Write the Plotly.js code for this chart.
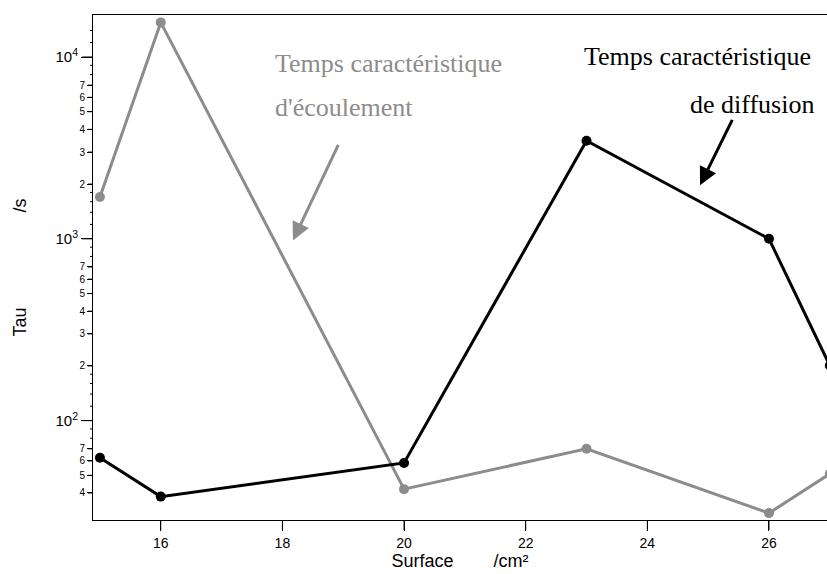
<!DOCTYPE html>
<html>
<head>
<meta charset="utf-8">
<script src="https://cdn.plot.ly/plotly-3.0.1.min.js"></script>
<style>
html, body { margin: 0; padding: 0; background: #fff; overflow: hidden; }
#chart { width: 827px; height: 574px; }
</style>
</head>
<body>
<div id="chart"></div>
<script>
// Surface (cm²)
const surface = [15, 16, 20, 23, 26, 27];
// Temps caractéristique d'écoulement (s) - gray
const tauEcoulement = [1700, 15500, 42, 70, 31, 51];
// Temps caractéristique de diffusion (s) - black
const tauDiffusion = [62.5, 38.2, 58.5, 3460, 1000, 201];

// tick values / labels
const xTickVals = [16, 18, 20, 22, 24, 26];
const decadeVals = [100, 1000, 10000];
const decadeText = ['10<sup>2</sup>', '10<sup>3</sup>', '10<sup>4</sup>'];
const smallVals = [40, 50, 60, 70, 200, 300, 400, 500, 600, 700, 2000, 3000, 4000, 5000, 6000, 7000];
const smallText = ['4', '5', '6', '7', '2', '3', '4', '5', '6', '7', '2', '3', '4', '5', '6', '7'];
const minorVals = [80, 90, 120, 140, 160, 180, 800, 900, 1200, 1400, 1600, 1800, 8000, 9000, 12000, 14000];

const gray = '#8c8c8c';
const yRange = [1.4535, 4.231];
const plotW = 734, plotH = 505;

const traces = [
  {
    x: surface, y: tauEcoulement, type: 'scatter', mode: 'lines+markers',
    line: {color: gray, width: 3}, marker: {color: gray, size: 10},
    xaxis: 'x', yaxis: 'y', showlegend: false, hoverinfo: 'skip'
  },
  {
    x: surface, y: tauDiffusion, type: 'scatter', mode: 'lines+markers',
    line: {color: '#000', width: 3}, marker: {color: '#000', size: 10},
    xaxis: 'x', yaxis: 'y2', showlegend: false, hoverinfo: 'skip'
  }
];

// tick marks, placed through the axes from the tick arrays
const tickLine = {color: '#000', width: 1};
const shapes = [];
xTickVals.forEach(v => shapes.push({type: 'line', xref: 'x', yref: 'paper',
  x0: v, x1: v, y0: 0, y1: -10 / plotH, line: tickLine}));
decadeVals.forEach(v => shapes.push({type: 'line', xref: 'paper', yref: 'y',
  x0: 0, x1: -11 / plotW, y0: v, y1: v, line: tickLine}));
smallVals.forEach(v => shapes.push({type: 'line', xref: 'paper', yref: 'y',
  x0: 0, x1: -5 / plotW, y0: v, y1: v, line: tickLine}));
minorVals.forEach(v => shapes.push({type: 'line', xref: 'paper', yref: 'y',
  x0: 0, x1: -3 / plotW, y0: v, y1: v, line: tickLine}));

const nb = n => '&nbsp;'.repeat(n);
const serif = '"Liberation Serif", "Times New Roman", serif';
const sans = '"Liberation Sans", Arial, sans-serif';

const layout = {
  width: 827, height: 574,
  margin: {l: 93, r: 0, t: 15, b: 54},
  paper_bgcolor: '#fff', plot_bgcolor: '#fff',
  font: {family: sans, color: '#000', size: 14},
  xaxis: {
    range: [14.886, 26.954],
    tickmode: 'array', tickvals: xTickVals, ticktext: xTickVals.map(String),
    ticks: 'outside', ticklen: 10, tickwidth: 1, tickcolor: '#000',
    showline: true, linecolor: '#000', linewidth: 1, mirror: true,
    showgrid: false, zeroline: false,
    tickfont: {size: 14, family: sans},
    title: {text: 'Surface' + nb(8) + '/cm²', font: {size: 18, family: sans}, standoff: 3}
  },
  yaxis: {
    type: 'log', range: yRange,
    tickmode: 'array', tickvals: smallVals, ticktext: smallText,
    ticks: 'outside', ticklen: 5, tickwidth: 1, tickcolor: '#000',
    tickfont: {size: 10, family: sans},
    showline: true, linecolor: '#000', linewidth: 1,
    showgrid: false, zeroline: false
  },
  yaxis2: {
    type: 'log', range: yRange, overlaying: 'y', side: 'left',
    tickmode: 'array', tickvals: decadeVals, ticktext: decadeText,
    ticks: 'outside', ticklen: 11, tickwidth: 1, tickcolor: '#000',
    tickfont: {size: 15, family: sans},
    showline: false, showgrid: false, zeroline: false,
    title: {text: 'Tau' + nb(19) + '/s', font: {size: 18, family: sans}, standoff: 24}
  },
  shapes: shapes,
  annotations: [
    {xref: 'paper', yref: 'paper', x: 0.2452, y: 0.9041, xanchor: 'left', yanchor: 'middle',
     text: 'Temps caractéristique', showarrow: false, font: {family: serif, size: 26, color: gray}},
    {xref: 'paper', yref: 'paper', x: 0.2452, y: 0.8165, xanchor: 'left', yanchor: 'middle',
     text: "d'écoulement", showarrow: false, font: {family: serif, size: 26, color: gray}},
    {xref: 'paper', yref: 'paper', x: 0.6662, y: 0.9174, xanchor: 'left', yanchor: 'middle',
     text: 'Temps caractéristique', showarrow: false, font: {family: serif, size: 26, color: '#000'}},
    {xref: 'paper', yref: 'paper', x: 0.8106, y: 0.8218, xanchor: 'left', yanchor: 'middle',
     text: 'de diffusion', showarrow: false, font: {family: serif, size: 26, color: '#000'}},
    {xref: 'paper', yref: 'paper', x: 0.2725, y: 0.5536, text: '', showarrow: true,
     ax: 46, ay: -97, arrowhead: 2, arrowsize: 1.2, arrowwidth: 3, arrowcolor: gray},
    {xref: 'paper', yref: 'paper', x: 0.827, y: 0.6627, text: '', showarrow: true,
     ax: 33, ay: -67, arrowhead: 2, arrowsize: 1.2, arrowwidth: 3, arrowcolor: '#000'}
  ]
};

Plotly.newPlot('chart', traces, layout, {staticPlot: true, displayModeBar: false});
</script>
</body>
</html>
